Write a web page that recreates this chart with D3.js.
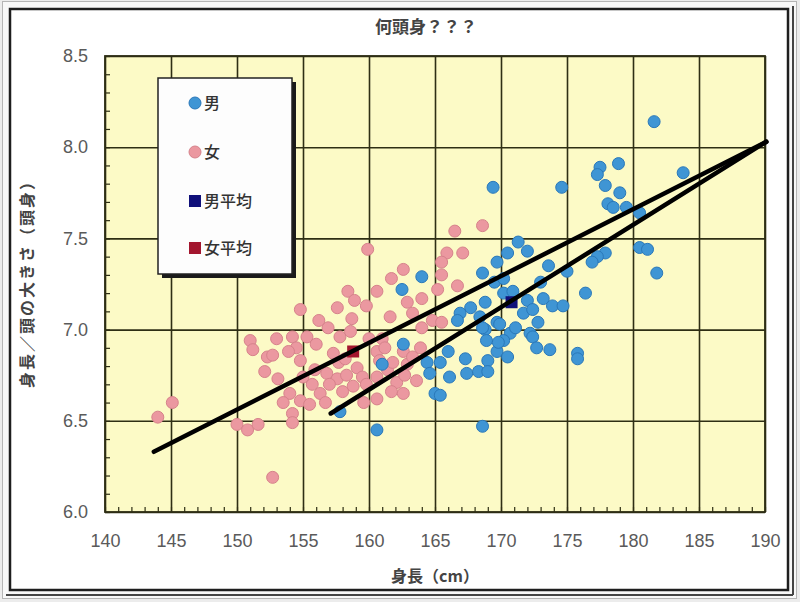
<!DOCTYPE html>
<html>
<head>
<meta charset="utf-8">
<script src="https://cdn.jsdelivr.net/npm/d3@7"></script>
<style>
  body { margin: 0; background: #fff; }
  svg { display: block; }
</style>
</head>
<body>
<div id="chart"></div>
<script>
// -------------------------------------------------------------------------
// Data

const title = '何頭身？？？';
const xLabel = '身長（cm）';
const yLabel = '身長／頭の大きさ（頭身）';
const xTicks = [140, 145, 150, 155, 160, 165, 170, 175, 180, 185, 190];
const yTicks = [6.0, 6.5, 7.0, 7.5, 8.0, 8.5];
const legendLabels = ['男', '女', '男平均', '女平均'];

const femaleHeight = [144.0, 145.1, 152.7, 151.0, 151.2, 152.1, 152.3, 150.0, 150.8, 151.6,
  159.9, 161.7, 162.6, 158.4, 158.9, 160.6, 159.8, 157.6, 158.7, 161.6,
  154.8, 156.9, 157.8, 158.6, 154.2, 155.3, 154.5, 153.9, 152.7, 154.8,
  153.1, 157.3, 157.7, 156.8, 157.6, 158.3, 159.1, 159.5, 158.8, 158.0,
  154.0, 153.5, 154.8, 155.7, 156.3, 156.7, 155.5, 154.2, 160.6, 160.8,
  161.4, 160.6, 162.1, 161.7, 162.6, 162.6, 162.9, 154.2, 168.6, 166.5,
  165.9, 167.1, 165.5, 165.5, 166.7, 162.9, 164.0, 165.2, 163.3, 164.8,
  163.9, 161.8, 163.3, 160.6, 165.5, 164.0, 162.7, 156.0, 155.9, 157.0,
  159.8, 160.0, 161.0, 163.6, 159.6, 156.2, 153.0, 158.2, 161.2, 155.0];
const femaleRatio = [6.52, 6.60, 6.19, 6.94, 6.89, 6.77, 6.85, 6.48, 6.45, 6.48,
  7.44, 7.28, 7.33, 7.21, 7.16, 7.21, 7.13, 7.12, 7.06, 7.07,
  7.11, 7.01, 6.96, 6.99, 6.96, 6.96, 6.90, 6.88, 6.86, 6.83,
  6.73, 6.87, 6.82, 6.76, 6.73, 6.75, 6.79, 6.74, 6.69, 6.66,
  6.65, 6.60, 6.61, 6.70, 6.65, 6.60, 6.59, 6.54, 6.88, 6.83,
  6.78, 6.74, 6.71, 6.66, 6.65, 6.88, 6.81, 6.49, 7.57, 7.54,
  7.42, 7.42, 7.37, 7.30, 7.24, 7.15, 7.17, 7.22, 7.09, 7.05,
  6.90, 6.82, 6.85, 6.62, 7.04, 7.01, 6.75, 6.92, 6.78, 6.70,
  6.70, 6.95, 6.95, 6.72, 6.60, 7.05, 6.95, 6.84, 6.90, 6.74];

const maleHeight = [181.6, 178.9, 177.5, 177.3, 177.9, 179.0, 183.8, 178.1, 178.5, 179.5,
  180.5, 174.6, 180.5, 181.1, 181.8, 177.9, 177.3, 176.9, 175.0, 176.4,
  169.4, 175.8, 175.8, 171.3, 172.0, 170.5, 169.7, 173.6, 164.0, 162.5,
  168.6, 169.5, 170.2, 170.9, 172.0, 173.2, 173.9, 174.7, 168.8, 167.7,
  166.9, 168.4, 169.7, 171.7, 172.4, 172.8, 170.7, 172.2, 168.8, 168.9,
  170.2, 172.4, 172.7, 173.7, 169.7, 170.5, 169.0, 167.3, 166.0, 165.4,
  164.4, 164.6, 166.1, 167.4, 168.3, 169.0, 165.0, 165.4, 168.6, 160.6,
  161.0, 170.2, 173.0, 166.7, 168.6, 169.9, 171.1, 169.8, 162.6, 157.8];
const maleRatio = [8.14, 7.91, 7.89, 7.85, 7.79, 7.75, 7.86, 7.69, 7.67, 7.67,
  7.64, 7.78, 7.45, 7.44, 7.31, 7.42, 7.40, 7.37, 7.32, 7.20,
  7.78, 6.87, 6.84, 7.48, 7.43, 7.42, 7.37, 7.35, 7.29, 7.22,
  7.31, 7.26, 7.20, 7.21, 7.16, 7.17, 7.13, 7.13, 7.15, 7.12,
  7.09, 7.07, 7.04, 7.09, 7.11, 7.04, 6.98, 6.98, 7.00, 6.94,
  6.94, 6.96, 6.90, 6.89, 6.88, 6.85, 6.83, 6.84, 6.88, 6.82,
  6.82, 6.76, 6.74, 6.76, 6.77, 6.77, 6.65, 6.64, 6.47, 6.45,
  6.81, 7.28, 7.26, 7.05, 7.01, 7.03, 7.01, 6.93, 6.92, 6.55];

// averages: [height, ratio]
const maleMean = [170.8, 7.15];
const femaleMean = [158.8, 6.88];

// trend lines: start and end points
const maleLine = [[157.1, 6.54], [190.1, 8.03]];
const femaleLine = [[143.7, 6.33], [190.1, 8.03]];

// -------------------------------------------------------------------------
// Setup

const width = 800;
const height = 602;
const plot = { left: 105, top: 56, right: 765, bottom: 512 };

const blue = { fill: '#3f95d4', stroke: '#2a78b9' };
const pink = { fill: '#eb98a0', stroke: '#d6828b' };
const navy = '#10107a';
const darkRed = '#a3162e';
const gridColor = '#2e2e14';
const jpFont = '"Noto Sans CJK JP", sans-serif';
const numFont = '"Liberation Sans", Arial, sans-serif';

const svg = d3.select('#chart')
  .append('svg')
  .attr('width', width)
  .attr('height', height);

// window-like frame
svg.append('rect')
  .attr('width', width).attr('height', height)
  .attr('fill', '#ececec');
svg.append('rect')
  .attr('x', 2.5).attr('y', 1.5).attr('width', 794).attr('height', 597)
  .attr('fill', '#f8f8f8').attr('stroke', '#b5b5b5');
svg.append('rect')
  .attr('x', 10).attr('y', 9).attr('width', 778).attr('height', 581)
  .attr('fill', '#fff').attr('stroke', '#1e1e1e').attr('stroke-width', 2.5);
svg.append('line')
  .attr('x1', 793).attr('x2', 793).attr('y1', 6).attr('y2', 595)
  .attr('stroke', '#444').attr('stroke-width', 2);
svg.append('line')
  .attr('x1', 6).attr('x2', 793).attr('y1', 595).attr('y2', 595)
  .attr('stroke', '#444').attr('stroke-width', 2);

let x = d3.scaleLinear().domain([140, 190]).range([plot.left, plot.right]);
let y = d3.scaleLinear().domain([6, 8.5]).range([plot.bottom, plot.top]);

// plot background
svg.append('rect')
  .attr('x', plot.left).attr('y', plot.top)
  .attr('width', plot.right - plot.left)
  .attr('height', plot.bottom - plot.top)
  .attr('fill', '#fcfac6');

// grid
let gridX = svg.append('g')
  .attr('transform', `translate(0,${plot.bottom})`)
  .call(d3.axisBottom(x).tickValues(xTicks).tickSize(-(plot.bottom - plot.top)).tickFormat(''));
let gridY = svg.append('g')
  .attr('transform', `translate(${plot.left},0)`)
  .call(d3.axisLeft(y).tickValues(yTicks).tickSize(-(plot.right - plot.left)).tickFormat(''));
[gridX, gridY].forEach(function(g) {
  g.select('.domain').remove();
  g.selectAll('line').attr('stroke', gridColor).attr('stroke-width', 1.6);
});

// minor ticks pointing inward
let minorX = svg.append('g')
  .attr('transform', `translate(0,${plot.bottom})`)
  .call(d3.axisBottom(x).tickValues(d3.range(140, 191, 1)).tickSize(-5).tickFormat(''));
let minorY = svg.append('g')
  .attr('transform', `translate(${plot.left},0)`)
  .call(d3.axisLeft(y).tickValues(d3.range(60, 86, 1).map(d => d / 10)).tickSize(-5).tickFormat(''));
[minorX, minorY].forEach(function(g) {
  g.select('.domain').remove();
  g.selectAll('line').attr('stroke', gridColor).attr('stroke-width', 1.2);
});

svg.append('rect')
  .attr('x', plot.left).attr('y', plot.top)
  .attr('width', plot.right - plot.left)
  .attr('height', plot.bottom - plot.top)
  .attr('fill', 'none').attr('stroke', gridColor).attr('stroke-width', 1.8);

// tick labels
let xAxis = svg.append('g')
  .attr('transform', `translate(0,${plot.bottom})`)
  .call(d3.axisBottom(x).tickValues(xTicks).tickSize(0).tickPadding(22));
let yAxis = svg.append('g')
  .attr('transform', `translate(${plot.left},0)`)
  .call(d3.axisLeft(y).tickValues(yTicks).tickSize(0).tickPadding(17).tickFormat(d3.format('.1f')));
[xAxis, yAxis].forEach(function(g) {
  g.select('.domain').remove();
  g.selectAll('text')
    .attr('fill', '#5a5a5a')
    .style('font-family', numFont)
    .style('font-size', '18px');
});

// -------------------------------------------------------------------------
// Marks

function drawPoints(hs, rs, color) {
  svg.append('g')
    .selectAll('circle')
    .data(hs)
    .enter()
    .append('circle')
    .attr('cx', d => x(d))
    .attr('cy', (d, i) => y(rs[i]))
    .attr('r', 6)
    .attr('fill', color.fill)
    .attr('stroke', color.stroke)
    .attr('stroke-width', 1);
}
drawPoints(femaleHeight, femaleRatio, pink);
drawPoints(maleHeight, maleRatio, blue);

[[femaleMean, darkRed], [maleMean, navy]].forEach(function(m) {
  svg.append('rect')
    .attr('x', x(m[0][0]) - 6).attr('y', y(m[0][1]) - 6)
    .attr('width', 12).attr('height', 12)
    .attr('fill', m[1]);
});

let line = d3.line().x(d => x(d[0])).y(d => y(d[1]));
[femaleLine, maleLine].forEach(function(l) {
  svg.append('path')
    .attr('d', line(l))
    .attr('fill', 'none')
    .attr('stroke', '#000')
    .attr('stroke-width', 4.5)
    .attr('stroke-linecap', 'round');
});

// -------------------------------------------------------------------------
// Legend

let legend = svg.append('g').attr('transform', 'translate(158,78)');
legend.append('rect')
  .attr('x', 4).attr('y', 4).attr('width', 134).attr('height', 196)
  .attr('fill', '#1a1a1a');
legend.append('rect')
  .attr('width', 134).attr('height', 196)
  .attr('fill', '#fdfdfd').attr('stroke', '#222').attr('stroke-width', 1.5);

let legendRows = [
  { label: legendLabels[0], shape: 'circle', color: blue.fill, stroke: blue.stroke, cy: 25 },
  { label: legendLabels[1], shape: 'circle', color: pink.fill, stroke: pink.stroke, cy: 74 },
  { label: legendLabels[2], shape: 'square', color: navy, stroke: navy, cy: 123 },
  { label: legendLabels[3], shape: 'square', color: darkRed, stroke: darkRed, cy: 170 }
];
legendRows.forEach(function(row) {
  if (row.shape === 'circle') {
    legend.append('circle')
      .attr('cx', 37).attr('cy', row.cy).attr('r', 6)
      .attr('fill', row.color).attr('stroke', row.stroke);
  } else {
    legend.append('rect')
      .attr('x', 31).attr('y', row.cy - 6).attr('width', 12).attr('height', 12)
      .attr('fill', row.color);
  }
  legend.append('text')
    .attr('x', 46).attr('y', row.cy)
    .attr('dy', '0.36em')
    .attr('fill', '#333')
    .style('font-family', jpFont)
    .style('font-size', '16px')
    .style('font-weight', 500)
    .text(row.label);
});

// -------------------------------------------------------------------------
// Titles

svg.append('text')
  .attr('x', 426).attr('y', 27).attr('dy', '0.36em')
  .attr('text-anchor', 'middle')
  .attr('fill', '#444')
  .style('font-family', jpFont).style('font-size', '17px').style('font-weight', 700)
  .text(title);

svg.append('text')
  .attr('x', 435).attr('y', 576).attr('dy', '0.36em')
  .attr('text-anchor', 'middle')
  .attr('fill', '#444')
  .style('font-family', jpFont).style('font-size', '16px').style('font-weight', 700)
  .text(xLabel);

svg.append('text')
  .attr('transform', 'translate(27,280) rotate(-90)')
  .attr('dy', '0.36em')
  .attr('text-anchor', 'middle')
  .attr('fill', '#444')
  .style('font-family', jpFont).style('font-size', '16px').style('font-weight', 700)
  .style('letter-spacing', '2px')
  .text(yLabel);
</script>
</body>
</html>
